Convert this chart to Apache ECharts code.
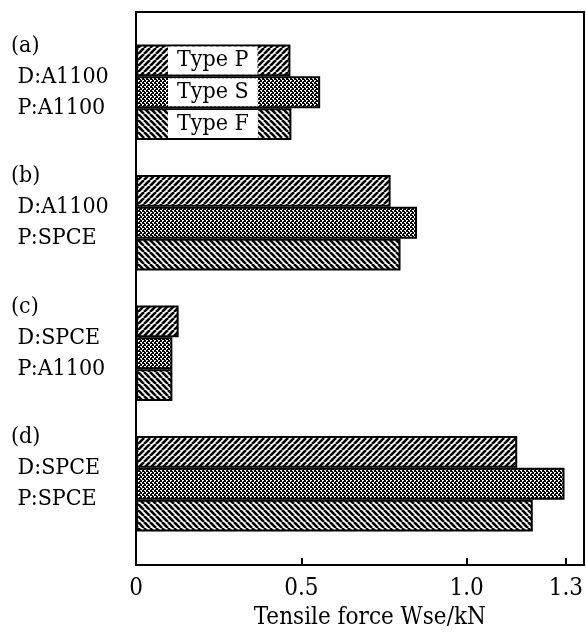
<!DOCTYPE html>
<html>
<head>
<meta charset="utf-8">
<script src="https://cdn.jsdelivr.net/npm/echarts@6/dist/echarts.min.js"></script>
<style>
html,body{margin:0;padding:0;background:#fff}
#chart{width:586px;height:637px}
</style>
</head>
<body>
<div id="chart"></div>
<script>
var groups = ['(a)\n D:A1100\n P:A1100', '(b)\n D:A1100\n P:SPCE', '(c)\n D:SPCE\n P:A1100', '(d)\n D:SPCE\n P:SPCE'];
var seriesNames = ['Type P', 'Type S', 'Type F'];
var typeP = [0.467, 0.77, 0.129, 1.153];
var typeS = [0.557, 0.85, 0.11, 1.296];
var typeF = [0.47, 0.80, 0.11, 1.20];
var tickValues = [0, 0.5, 1.0, 1.3];
var tickLabels = ['0', '0.5', '1.0', '1.3'];
var axisName = 'Tensile force Wse/kN';

var font = "'DejaVu Serif Condensed', 'DejaVu Serif', 'Liberation Serif', serif";

// hatch tiles
function hatch(dir) {
    var s = 6;
    var c = document.createElement('canvas');
    c.width = s; c.height = s;
    var ctx = c.getContext('2d');
    ctx.fillStyle = '#fff';
    ctx.fillRect(0, 0, s, s);
    ctx.strokeStyle = '#000';
    ctx.lineWidth = 2.6;
    for (var k = -1; k <= 1; k++) {
        ctx.beginPath();
        if (dir > 0) { ctx.moveTo(k * s, s); ctx.lineTo(k * s + s, 0); }
        else { ctx.moveTo(k * s, 0); ctx.lineTo(k * s + s, s); }
        ctx.stroke();
    }
    return c;
}
function checker() {
    var c = document.createElement('canvas');
    c.width = 4; c.height = 4;
    var ctx = c.getContext('2d');
    ctx.fillStyle = '#fff';
    ctx.fillRect(0, 0, 4, 4);
    ctx.fillStyle = '#000';
    ctx.fillRect(0, 0, 2, 2);
    ctx.fillRect(2, 2, 2, 2);
    ctx.fillRect(0, 3, 1, 1);
    ctx.fillRect(3, 1, 1, 1);
    return c;
}
var fills = [hatch(1), checker(), hatch(-1)];
var values = [typeP, typeS, typeF];

var series = [];
for (var i = 0; i < seriesNames.length; i++) {
    series.push({
        name: seriesNames[i],
        type: 'bar',
        xAxisIndex: 1,
        yAxisIndex: 1,
        barGap: 0,
        barCategoryGap: '27%',
        itemStyle: {
            color: {image: fills[i], repeat: 'repeat'},
            borderColor: '#000',
            borderWidth: 2
        },
        label: {
            show: false,
            position: 'insideLeft',
            distance: 32,
            formatter: '{a}',
            color: '#000',
            fontFamily: font,
            fontSize: 23,
            lineHeight: 24,
            backgroundColor: '#fff',
            padding: [2, 9]
        },
        data: values[i].map(function (v, j) {
            return j === 0 ? {value: v, label: {show: true}} : v;
        })
    });
}

var option = {
    backgroundColor: '#fff',
    animation: false,
    grid: [
        {left: 136, right: 2, top: 12, bottom: 72, show: true, borderColor: '#000', borderWidth: 2, backgroundColor: 'transparent'},
        {left: 136, right: 2, top: 27, bottom: 88, show: false}
    ],
    xAxis: [
        {gridIndex: 0, type: 'value', show: false},
        {
            gridIndex: 1,
            type: 'value',
            min: 0,
            max: 1.342,
            offset: 16,
            axisLine: {show: false},
            splitLine: {show: false},
            axisTick: {
                show: true, inside: true, length: 7,
                customValues: tickValues,
                lineStyle: {color: '#000', width: 2}
            },
            axisLabel: {
                customValues: tickValues,
                margin: 12,
                color: '#000',
                fontFamily: font,
                fontSize: 24,
                formatter: function (v) {
                    var k = tickValues.indexOf(v);
                    return k >= 0 ? tickLabels[k] : '';
                }
            },
            name: axisName,
            nameLocation: 'middle',
            nameGap: 40,
            nameTextStyle: {color: '#000', fontFamily: font, fontSize: 24, padding: [0, 0, 0, 24]}
        }
    ],
    yAxis: [
        {gridIndex: 0, type: 'value', show: false},
        {
            gridIndex: 1,
            type: 'category',
            inverse: true,
            data: groups,
            axisLine: {show: false},
            axisTick: {show: false},
            axisLabel: {
                interval: 0,
                hideOverlap: false,
                align: 'left',
                margin: 125,
                color: '#000',
                fontFamily: font,
                fontSize: 23,
                lineHeight: 31,
                // blank last line lifts the block to sit level with the bars' top
                formatter: function (v) { return v + '\n '; }
            }
        }
    ],
    series: series
};

var myChart = echarts.init(document.getElementById('chart'));
myChart.setOption(option);
</script>
</body>
</html>
